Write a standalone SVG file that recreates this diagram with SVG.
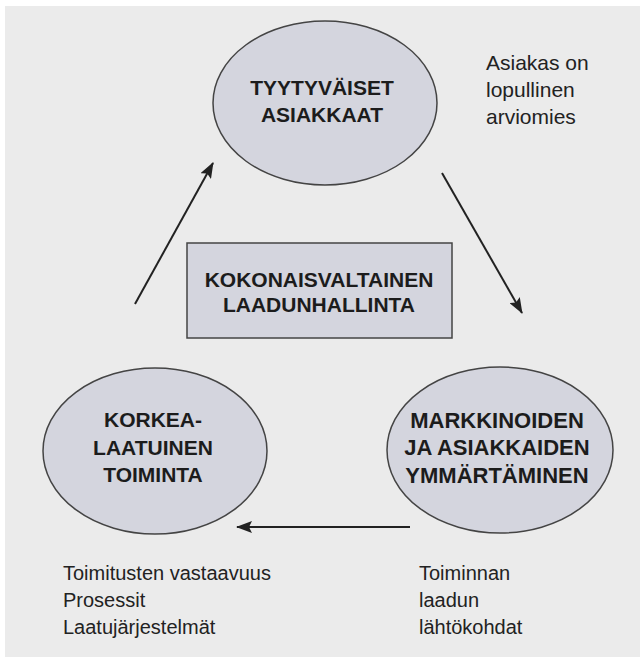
<svg xmlns="http://www.w3.org/2000/svg" width="640" height="657" viewBox="0 0 640 657">
<style>
.bg{fill:#ebebeb}
.node{fill:#d4d5de;stroke:#444;stroke-width:1.5}
.t{font-family:"Liberation Sans",Arial,sans-serif;font-size:21px;font-weight:bold;fill:#1c1c1c;text-anchor:middle}
.tl{font-size:22px}
.n{font-family:"Liberation Sans",Arial,sans-serif;font-size:20px;fill:#222}
.nl{font-size:21px}
.c{stroke:#222;stroke-width:2;fill:none;marker-end:url(#ah)}
</style>
<defs>
<marker id="ah" viewBox="0 0 16 12" refX="15" refY="6" markerWidth="16" markerHeight="12" markerUnits="userSpaceOnUse" orient="auto">
<path d="M0,0 L16,6 L0,12 L3,6 Z" fill="#222"/>
</marker>
</defs>
<rect x="0" y="0" width="640" height="657" fill="#ffffff"/>
<rect class="bg" x="5" y="6" width="635" height="651"/>
<g id="connectors">
<line class="c" x1="135" y1="304" x2="213" y2="163"/>
<line class="c" x1="442" y1="173" x2="522" y2="313"/>
<line class="c" x1="410" y1="527" x2="237" y2="527"/>
</g>
<g id="node-tyytyvaiset">
<ellipse class="node" cx="325" cy="103" rx="112" ry="82"/>
<text class="t" x="322" y="95">TYYTYVÄISET</text>
<text class="t" x="322" y="122">ASIAKKAAT</text>
</g>
<g id="node-kokonaisvaltainen">
<rect class="node" x="187" y="243" width="265" height="95"/>
<text class="t" x="319" y="287">KOKONAISVALTAINEN</text>
<text class="t" x="319" y="312">LAADUNHALLINTA</text>
</g>
<g id="node-korkealaatuinen">
<ellipse class="node" cx="155" cy="451" rx="112" ry="83"/>
<text class="t" x="153" y="427">KORKEA-</text>
<text class="t" x="153" y="455">LAATUINEN</text>
<text class="t" x="153" y="482">TOIMINTA</text>
</g>
<g id="node-markkinoiden">
<ellipse class="node" cx="500" cy="450" rx="113" ry="83"/>
<text class="t tl" x="497" y="428">MARKKINOIDEN</text>
<text class="t tl" x="497" y="455">JA ASIAKKAIDEN</text>
<text class="t tl" x="497" y="483">YMMÄRTÄMINEN</text>
</g>
<g id="note-asiakas">
<text class="n nl" x="486" y="70">Asiakas on</text>
<text class="n nl" x="486" y="97">lopullinen</text>
<text class="n nl" x="486" y="124">arviomies</text>
</g>
<g id="note-toimitusten">
<text class="n" x="63" y="580">Toimitusten vastaavuus</text>
<text class="n" x="63" y="607">Prosessit</text>
<text class="n" x="63" y="634">Laatujärjestelmät</text>
</g>
<g id="note-toiminnan">
<text class="n" x="419" y="580">Toiminnan</text>
<text class="n" x="419" y="607">laadun</text>
<text class="n" x="419" y="634">lähtökohdat</text>
</g>
</svg>
